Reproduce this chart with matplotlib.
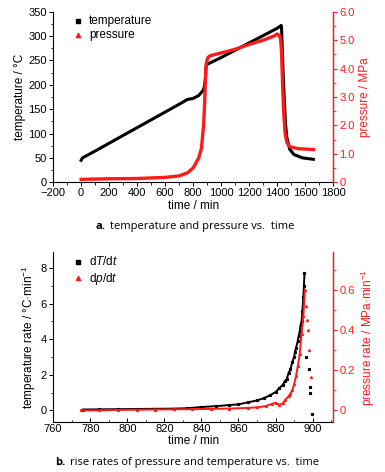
import numpy as np
import matplotlib
matplotlib.use("Agg")
import matplotlib.pyplot as plt
from matplotlib.ticker import MultipleLocator, FixedLocator

plt.rcParams['font.family'] = ['Liberation Sans', 'DejaVu Sans']
plt.rcParams['mathtext.fontset'] = 'custom'
plt.rcParams['mathtext.it'] = 'Liberation Sans:italic'
plt.rcParams['mathtext.rm'] = 'Liberation Sans'

RED = '#ff1a1a'

# ---- panel a: temperature and pressure vs time ----
t_temp = [0, 10, 100, 200, 300, 400, 500, 600, 700, 760, 800, 840, 870, 880,
          888, 893, 900, 1000, 1100, 1200, 1300, 1400, 1430, 1432, 1440, 1450,
          1460, 1470, 1490, 1520, 1580, 1660]
temp = [45, 50, 64, 80, 96, 112, 128, 144, 160, 170, 172, 178, 188, 195,
        212, 238, 242, 256, 271, 286, 301, 316, 322, 318, 250, 180,
        122, 92, 68, 57, 50, 47]

t_pres = [0, 200, 400, 600, 700, 760, 800, 840, 860, 875, 882, 886, 890, 895,
          905, 920, 1000, 1100, 1200, 1300, 1380, 1400, 1415, 1425, 1432, 1440,
          1448, 1458, 1470, 1490, 1550, 1660]
pres = [0.10, 0.12, 0.13, 0.17, 0.22, 0.33, 0.50, 0.85, 1.2, 2.0, 2.7, 3.3, 3.9, 4.2,
        4.38, 4.45, 4.55, 4.68, 4.85, 5.0, 5.15, 5.22, 5.17, 5.05, 4.6, 3.4,
        2.4, 1.7, 1.4, 1.25, 1.18, 1.15]

# ---- panel b: rise rates ----
t_dT = [776, 785, 795, 805, 815, 825, 832, 840, 848, 855, 860, 865, 870, 874,
        877, 880, 882, 884, 885, 886, 887, 888, 889, 890, 890.5, 891, 892,
        892.5, 893, 893.5, 894, 894.5, 895, 895.3, 895.6]
dT = [0.05, 0.06, 0.07, 0.08, 0.09, 0.10, 0.12, 0.19, 0.24, 0.30, 0.34, 0.45, 0.56, 0.70,
      0.85, 1.03, 1.25, 1.45, 1.65, 1.75, 2.1, 2.3, 2.7, 3.0, 3.3, 3.5, 3.9,
      4.2, 4.4, 4.8, 5.0, 5.6, 6.4, 7.0, 7.7]
t_dT_tail = [896.5, 897.9, 898.4, 898.6, 899.4]
dT_tail = [3.0, 2.3, 1.3, 1.0, -0.2]

t_dp = [775, 785, 795, 805, 815, 825, 835, 845, 855, 865, 870, 875, 878, 880,
        882, 884, 885, 887, 888, 889, 890, 891, 892, 893, 894, 895, 895.8]
dp = [0.0, 0.0, 0.002, 0.003, 0.004, 0.005, 0.006, 0.007, 0.009, 0.012, 0.015, 0.022, 0.032, 0.038,
      0.028, 0.035, 0.05, 0.07, 0.083, 0.10, 0.13, 0.17, 0.22, 0.28, 0.38, 0.47, 0.6]
t_dp_tail = [896.5, 897.0, 897.5, 898.0, 899.2]
dp_tail = [0.52, 0.45, 0.40, 0.30, 0.165]

FS = 8  # tick / label size

fig = plt.figure(figsize=(3.85, 4.72), dpi=100)

def style_axes(ax, ax2, tickdir_x):
    ax.spines['top'].set_visible(False)
    ax2.spines['top'].set_visible(False)
    ax2.spines['left'].set_visible(False)
    ax2.spines['bottom'].set_visible(False)
    ax2.spines['right'].set_color(RED)
    ax2.spines['right'].set_linewidth(1.0)
    ax.tick_params(axis='both', which='major', labelsize=FS, length=3, width=0.7, direction='out', pad=1.5)
    ax.tick_params(axis='both', which='minor', length=1.8, width=0.6, direction='out')
    ax.tick_params(axis='x', which='both', direction=tickdir_x)
    ax2.tick_params(axis='y', which='major', labelsize=FS, length=3, width=0.8, colors=RED, pad=1.5)
    ax2.tick_params(axis='y', which='minor', length=1.8, width=0.6, colors=RED)
    for s in ['left', 'bottom']:
        ax.spines[s].set_linewidth(0.8)

# panel a
ax1 = fig.add_axes([0.138, 0.614, 0.727, 0.361])
ax1b = ax1.twinx()
style_axes(ax1, ax1b, 'out')
ax1.plot(t_temp, temp, color='black', lw=2.2)
ax1b.plot(t_pres, pres, color=RED, lw=2.4)
ax1.set_xlim(-200, 1800)
ax1.set_ylim(0, 350)
ax1b.set_ylim(0, 6)
ax1.xaxis.set_major_locator(MultipleLocator(200))
ax1.xaxis.set_minor_locator(MultipleLocator(100))
ax1.yaxis.set_major_locator(MultipleLocator(50))
ax1.yaxis.set_minor_locator(MultipleLocator(25))
ax1b.yaxis.set_minor_locator(MultipleLocator(0.5))
ax1b.set_yticks(range(7))
ax1b.set_yticklabels(['0', '1.0', '2.0', '3.0', '4.0', '5.0', '6.0'])
ax1.set_xlabel('time / min', fontsize=FS + 0.5, labelpad=1)
ax1.set_ylabel('temperature / °C', fontsize=FS + 0.5, labelpad=2)
ax1b.set_ylabel('pressure / MPa', fontsize=FS + 0.5, color=RED, labelpad=3)
h1 = ax1.scatter([], [], marker='s', s=9, color='black')
h2 = ax1.scatter([], [], marker='^', s=9, color=RED)
ax1.legend([h1, h2], ['temperature', 'pressure'], loc='upper left',
           bbox_to_anchor=(0.04, 1.03), frameon=False, fontsize=FS + 0.5,
           handlelength=1.0, handletextpad=0.4, labelspacing=0.2, borderpad=0.2)
fig.text(0.248, 0.521, 'a.', fontsize=8, fontweight='bold', ha='left', va='center', family='Open Sans')
fig.text(0.286, 0.521, 'temperature and pressure vs.  time', fontsize=8, ha='left', va='center',
         family='Open Sans')

# panel b
ax2 = fig.add_axes([0.138, 0.106, 0.727, 0.36])
ax2b = ax2.twinx()
style_axes(ax2, ax2b, 'in')
ax2.plot(t_dT, dT, color='black', lw=1.4, marker='s', ms=1.3, ls='-')
ax2.plot(t_dT_tail, dT_tail, color='black', ls='none', marker='s', ms=1.3)
ax2b.plot(t_dp, dp, color=RED, lw=1.4, marker='^', ms=1.4, ls='-')
ax2b.plot(t_dp_tail, dp_tail, color=RED, ls='none', marker='^', ms=1.4)
ax2.set_xlim(760, 911)
ax2.set_ylim(-0.65, 8.9)
ax2b.set_ylim(-0.058, 0.79)
ax2.xaxis.set_major_locator(MultipleLocator(20))
ax2.xaxis.set_minor_locator(MultipleLocator(10))
ax2.yaxis.set_major_locator(FixedLocator([0, 2, 4, 6, 8]))
ax2.yaxis.set_minor_locator(FixedLocator([1, 3, 5, 7]))
ax2b.yaxis.set_major_locator(FixedLocator([0, 0.2, 0.4, 0.6, 0.8]))
ax2b.yaxis.set_minor_locator(FixedLocator([0.1, 0.3, 0.5, 0.7]))
ax2b.set_yticklabels(['0', '0.2', '0.4', '0.6', '0.8'])
ax2.set_xlabel('time / min', fontsize=FS + 0.5, labelpad=1)
ax2.set_ylabel('temperature rate / °C·min$^{-1}$', fontsize=FS + 0.5, labelpad=2)
ax2b.set_ylabel('pressure rate / MPa·min$^{-1}$', fontsize=FS + 0.5, color=RED, labelpad=3)
g1 = ax2.scatter([], [], marker='s', s=9, color='black')
g2 = ax2.scatter([], [], marker='^', s=9, color=RED)
ax2.legend([g1, g2], [r'd$T$/d$t$', r'd$p$/d$t$'], loc='upper left',
           bbox_to_anchor=(0.04, 1.03), frameon=False, fontsize=FS + 0.5,
           handlelength=1.0, handletextpad=0.4, labelspacing=0.2, borderpad=0.2)
fig.text(0.143, 0.021, 'b.', fontsize=8, fontweight='bold', ha='left', va='center', family='Open Sans')
fig.text(0.182, 0.021, 'rise rates of pressure and temperature vs.  time', fontsize=8,
         ha='left', va='center', family='Open Sans')

fig.savefig('out.png', dpi=100)
